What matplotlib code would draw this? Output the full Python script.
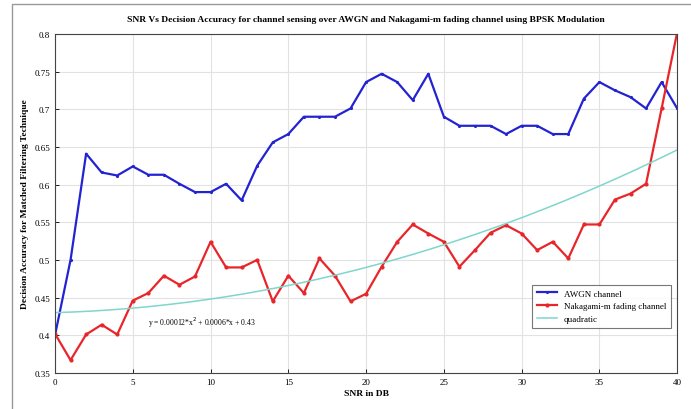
import numpy as np
import matplotlib
matplotlib.use("Agg")
import matplotlib.pyplot as plt
from matplotlib.ticker import FuncFormatter

snr = list(range(0, 41))
awgn = [0.40, 0.50, 0.641, 0.616, 0.612, 0.624, 0.613, 0.613, 0.601, 0.590,
        0.590, 0.601, 0.579, 0.625, 0.656, 0.667, 0.690, 0.690, 0.690, 0.701,
        0.736, 0.747, 0.736, 0.712, 0.747, 0.690, 0.678, 0.678, 0.678, 0.667,
        0.678, 0.678, 0.667, 0.667, 0.714, 0.736, 0.725, 0.716, 0.701, 0.736,
        0.701]
nakagami = [0.402, 0.367, 0.401, 0.414, 0.401, 0.446, 0.456, 0.479, 0.467, 0.478,
            0.524, 0.490, 0.490, 0.500, 0.445, 0.479, 0.456, 0.502, 0.479, 0.445,
            0.455, 0.491, 0.524, 0.547, 0.535, 0.524, 0.491, 0.513, 0.536, 0.546,
            0.535, 0.513, 0.524, 0.502, 0.547, 0.547, 0.580, 0.588, 0.601, 0.701,
            0.802]
quad_coef = [0.00012, 0.0006, 0.43]

plt.rcParams['font.family'] = ['Liberation Serif', 'DejaVu Serif']

fig = plt.figure(figsize=(6.91, 4.10), dpi=100)
ax = fig.add_axes([0.0796, 0.088, 0.9004, 0.827])

xs = np.linspace(0, 40, 200)
ax.plot(snr, awgn, color='#2323d2', lw=1.6, marker='.', markersize=2.5, label='AWGN channel')
ax.plot(snr, nakagami, color='#e8262a', lw=1.6, marker='.', markersize=4, label='Nakagami-m fading channel')
ax.plot(xs, np.polyval(quad_coef, xs), color='#7fd6cc', lw=1.1, label='quadratic')

ax.text(6.0, 0.418, 'y = 0.00012*x$^2$ + 0.0006*x + 0.43', fontsize=5.5, va='center')

ax.set_xlim(0, 40)
ax.set_ylim(0.35, 0.8)
ax.set_xticks(range(0, 41, 5))
ax.set_yticks(np.arange(0.35, 0.801, 0.05))
ax.yaxis.set_major_formatter(FuncFormatter(lambda v, p: ('%.2f' % v).rstrip('0')))
ax.tick_params(labelsize=6.5, direction='in', length=3, width=0.6)
ax.grid(True, color='#e2e2e2', lw=0.8)
for s in ax.spines.values():
    s.set_linewidth(0.8)
    s.set_color('#444444')

ax.set_title('SNR Vs Decision Accuracy for channel sensing over AWGN and Nakagami-m fading channel using BPSK Modulation',
             fontsize=6.8, fontweight='bold', pad=9)
ax.set_xlabel('SNR in DB', fontsize=6.8, fontweight='bold', labelpad=2)
ax.set_ylabel('Decision Accuracy for Matched Filtering Technique', fontsize=6.8, fontweight='bold', labelpad=4)

leg = ax.legend(loc='lower right', bbox_to_anchor=(0.997, 0.12), fontsize=6.5, frameon=True,
                fancybox=False, handlelength=2.2, borderpad=0.5, labelspacing=0.5)
leg.get_frame().set_edgecolor('#555555')
leg.get_frame().set_linewidth(0.8)

fig.patches.append(plt.Rectangle((0.017, -0.01), 0.99, 0.998, transform=fig.transFigure,
                                 fill=False, edgecolor='#999999', lw=1.0))

fig.savefig('out.png', dpi=100)
